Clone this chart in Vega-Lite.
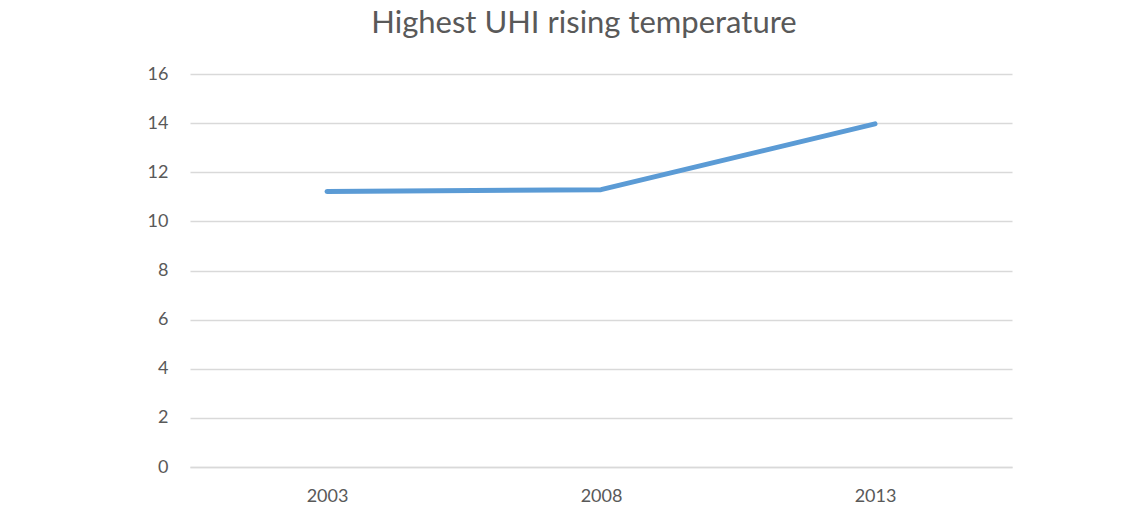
{
  "$schema": "https://vega.github.io/schema/vega-lite/v6.json",
  "width": 822,
  "height": 393,
  "autosize": {"type": "none"},
  "padding": {"left": 190, "top": 74, "right": 131, "bottom": 41},
  "background": "white",
  "title": {
    "text": "Highest UHI rising temperature",
    "font": "Lato",
    "fontSize": 31,
    "fontWeight": "normal",
    "color": "#595959",
    "anchor": "middle",
    "dx": -17,
    "offset": 25
  },
  "data": {
    "values": [
      {"year": "2003", "temp": 11.22},
      {"year": "2008", "temp": 11.29},
      {"year": "2013", "temp": 13.97}
    ]
  },
  "config": {
    "view": {"stroke": null},
    "axis": {
      "labelFont": "Lato",
      "labelFontSize": 18,
      "labelColor": "#595959",
      "gridColor": "#d9d9d9",
      "gridWidth": 1.5,
      "ticks": false,
      "domain": false,
      "title": null
    }
  },
  "mark": {"type": "line", "color": "#5B9BD5", "strokeWidth": 5, "strokeCap": "round", "strokeJoin": "round"},
  "encoding": {
    "x": {
      "field": "year",
      "type": "ordinal",
      "scale": {"type": "point", "padding": 0.5},
      "axis": {"labelAngle": 0, "labelPadding": 20, "grid": false, "domain": true, "domainColor": "#d9d9d9", "domainWidth": 1.5}
    },
    "y": {
      "field": "temp",
      "type": "quantitative",
      "scale": {"domain": [0, 16]},
      "axis": {"values": [0, 2, 4, 6, 8, 10, 12, 14, 16], "labelPadding": 22, "grid": true}
    }
  }
}
